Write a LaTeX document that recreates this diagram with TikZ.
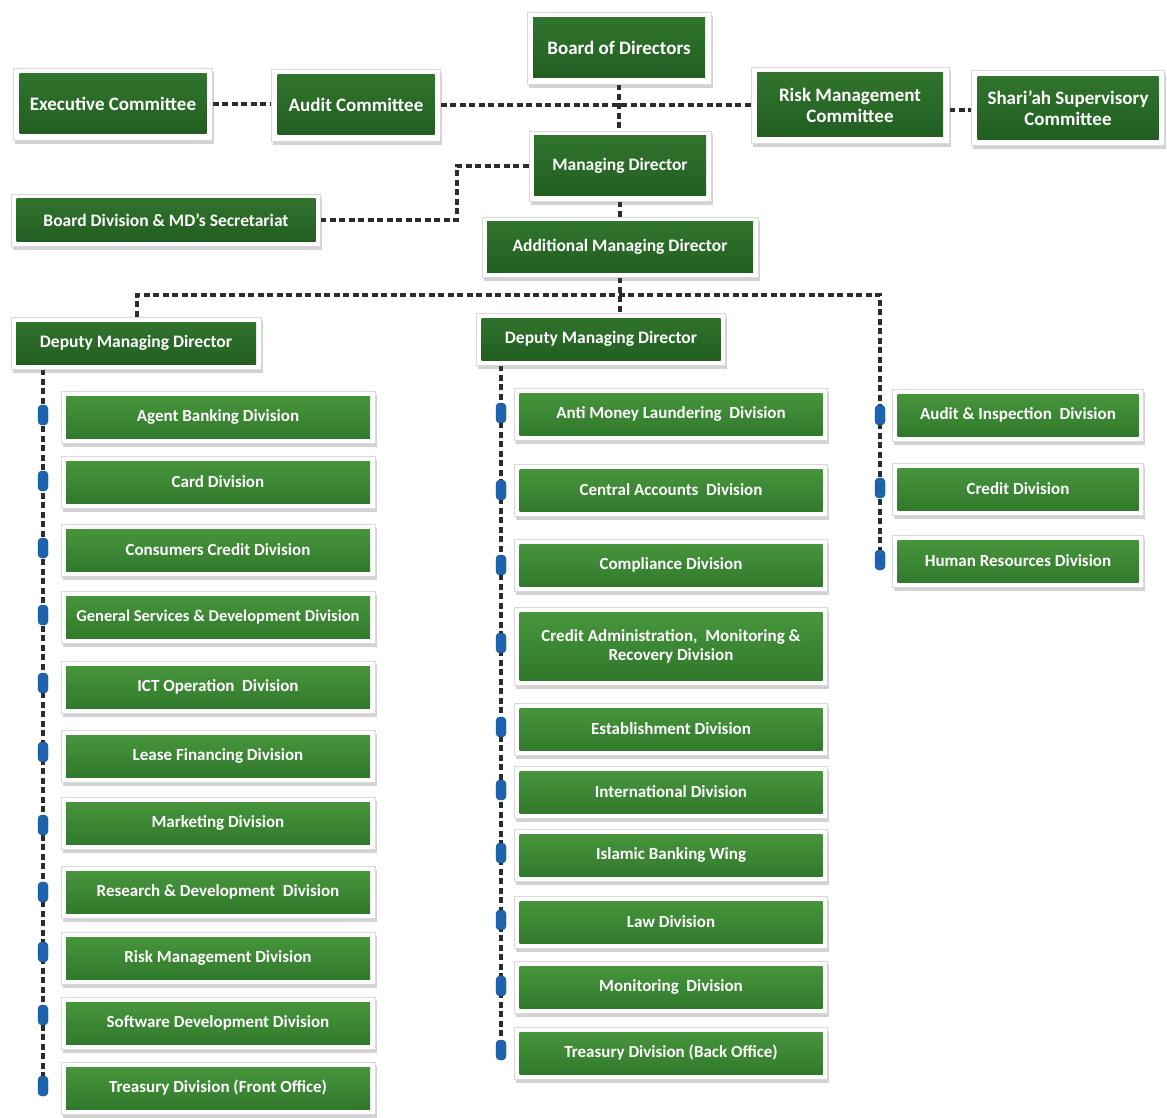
\documentclass[tikz,border=0pt]{standalone}
\usepackage{fontspec}
\setmainfont{Carlito}
\usetikzlibrary{shadows,calc}
\definecolor{gtopA}{RGB}{50,118,46}
\definecolor{gbotA}{RGB}{32,92,32}
\definecolor{gtopB}{RGB}{74,152,62}
\definecolor{gbotB}{RGB}{46,118,42}
\definecolor{mblue}{RGB}{28,100,176}
\definecolor{lnk}{RGB}{40,46,40}
\pgfdeclarelayer{bg}
\pgfsetlayers{bg,main}
\tikzset{
  basebox/.style={rectangle, fill=white, draw=black!15, line width=0.7pt,
    inner sep=2pt, align=center, text=white,
    drop shadow={shadow xshift=1.5pt, shadow yshift=-4pt, opacity=0.25, fill=black!70}},
  topbox/.style={basebox, font=\bfseries\fontsize{19}{21}\selectfont,
    path picture={\fill[top color=gtopA, bottom color=gbotA]
      ([shift={(6pt,6pt)}]path picture bounding box.south west) rectangle
      ([shift={(-6pt,-6pt)}]path picture bounding box.north east);}},
  midbox/.style={basebox, font=\bfseries\fontsize{17.5}{19.5}\selectfont,
    path picture={\fill[top color=gtopA, bottom color=gbotA]
      ([shift={(5pt,5pt)}]path picture bounding box.south west) rectangle
      ([shift={(-5pt,-5pt)}]path picture bounding box.north east);}},
  divbox/.style={basebox, font=\bfseries\fontsize{17}{19}\selectfont,
    minimum height=52pt,
    path picture={\fill[top color=gtopB, bottom color=gbotB]
      ([shift={(5pt,5pt)}]path picture bounding box.south west) rectangle
      ([shift={(-5pt,-5pt)}]path picture bounding box.north east);}},
  leftdiv/.style={divbox, minimum width=314pt},
  middiv/.style={divbox, minimum width=313pt},
  rightdiv/.style={divbox, minimum width=251pt},
  mk/.style={rectangle, rounded corners=4pt, fill=mblue, draw=mblue!70!black,
    line width=0.4pt, minimum width=10pt, minimum height=20pt, inner sep=0pt},
  link/.style={draw=lnk, line width=3.5pt, dash pattern=on 6pt off 3.5pt},
}
\begin{document}
\begin{tikzpicture}[x=1pt,y=-1pt]
\begin{pgfonlayer}{bg}
\fill[white] (0,0) rectangle (1167,1118);
\end{pgfonlayer}
\useasboundingbox (0,0) rectangle (1167,1118);

% top level
\node[topbox, minimum width=184pt, minimum height=72pt] (bod) at (619,48) {Board of Directors};
\node[topbox, minimum width=199pt, minimum height=72pt] (exec) at (113,104) {Executive Committee};
\node[topbox, minimum width=169pt, minimum height=72pt] (audit) at (356,105) {Audit Committee};
\node[topbox, minimum width=198pt, minimum height=76pt] (risk) at (850,105) {Risk Management\\Committee};
\node[topbox, minimum width=193pt, minimum height=75pt] (shariah) at (1068,108) {Shari'ah Supervisory\\Committee};
\node[midbox, minimum width=182pt, minimum height=70pt] (md) at (620,166) {Managing Director};
\node[midbox, minimum width=309pt, minimum height=52pt] (bdiv) at (166,220) {Board Division \& MD's Secretariat};
\node[midbox, minimum width=276pt, minimum height=60pt] (amd) at (620,247) {Additional Managing Director};
\node[midbox, minimum width=250pt, minimum height=52pt] (dmdL) at (136,343) {Deputy Managing Director};
\node[midbox, minimum width=249pt, minimum height=52pt] (dmdM) at (601,339) {Deputy Managing Director};

% left column
\node[leftdiv] (l1) at (218,417) {Agent Banking Division};
\node[leftdiv] (l2) at (218,482) {Card Division};
\node[leftdiv] (l3) at (218,550) {Consumers Credit Division};
\node[leftdiv, font=\bfseries\fontsize{16.5}{18.5}\selectfont] (l4) at (218,617) {General Services \& Development Division};
\node[leftdiv] (l5) at (218,687) {ICT Operation\ \ Division};
\node[leftdiv] (l6) at (218,756) {Lease Financing Division};
\node[leftdiv] (l7) at (218,823) {Marketing Division};
\node[leftdiv] (l8) at (218,892) {Research \& Development\ \ Division};
\node[leftdiv] (l9) at (218,958) {Risk Management Division};
\node[leftdiv] (l10) at (218,1023) {Software Development Division};
\node[leftdiv] (l11) at (218,1088) {Treasury Division (Front Office)};

% middle column
\node[middiv] (m1) at (671,414) {Anti Money Laundering\ \ Division};
\node[middiv] (m2) at (671,490) {Central Accounts\ \ Division};
\node[middiv] (m3) at (671,565) {Compliance Division};
\node[middiv, minimum height=78pt] (m4) at (671,646) {Credit Administration,\ \ Monitoring \&\\Recovery Division};
\node[middiv] (m5) at (671,729) {Establishment Division};
\node[middiv] (m6) at (671,792) {International Division};
\node[middiv] (m7) at (671,855) {Islamic Banking Wing};
\node[middiv] (m8) at (671,922) {Law Division};
\node[middiv] (m9) at (671,987) {Monitoring\ \ Division};
\node[middiv] (m10) at (671,1053) {Treasury Division (Back Office)};

% right column
\node[rightdiv] (r1) at (1018,415) {Audit \& Inspection\ \ Division};
\node[rightdiv] (r2) at (1018,489) {Credit Division};
\node[rightdiv] (r3) at (1018,561) {Human Resources Division};

% markers
\foreach \i/\y in {1/415,2/481,3/548,4/615,5/683,6/752,7/825,8/892,9/952,10/1015,11/1086}
  \node[mk] (mL\i) at (43,\y) {};
\foreach \i/\y in {1/413,2/490,3/565,4/643,5/727,6/790,7/853,8/920,9/986,10/1050}
  \node[mk] (mM\i) at (501,\y) {};
\foreach \i/\y in {1/415,2/488,3/560}
  \node[mk] (mR\i) at (880,\y) {};

\coordinate (elb) at (457,220);
\coordinate (busL) at (137,295);
\coordinate (busR) at (880,295);

\begin{pgfonlayer}{bg}
\draw[link] (exec.east) -- (exec.east -| audit.west);
\draw[link] (audit.east) -- (audit.east -| risk.west);
\draw[link] (risk.east |- 0,110) -- (shariah.west |- 0,110);
\draw[link] (bod.south) -- (bod.south |- md.north);
\draw[link] (md.west) -| (elb) -- (bdiv.east);
\draw[link] (md.south) -- (md.south |- amd.north);
\draw[link] (amd.south) -- (amd.south |- dmdM.north);
\draw[link] (dmdL.north -| busL) -- (busL) -- (busR) -- (mR3);
\draw[link] (dmdL.south -| mL11) -- (mL11);
\draw[link] (dmdM.south -| mM10) -- (mM10);
\end{pgfonlayer}
\end{tikzpicture}
\end{document}
